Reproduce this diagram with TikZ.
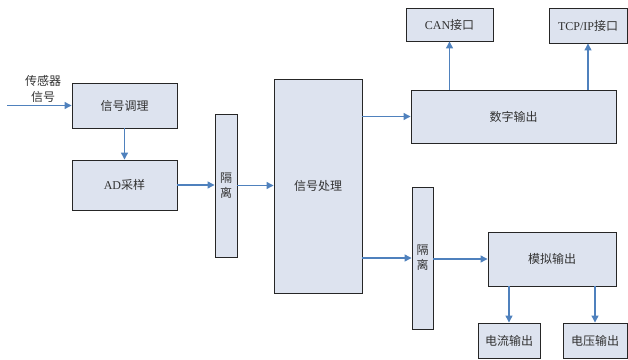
\documentclass[tikz,border=0pt]{standalone}
\usepackage{fontspec}
\setmainfont{Liberation Serif}
\newfontfamily\cjk{Noto Sans CJK SC}
\usetikzlibrary{arrows.meta}
\definecolor{boxfill}{RGB}{221,227,239}
\definecolor{arrblue}{RGB}{79,129,189}
\definecolor{txt}{RGB}{50,50,50}
\begin{document}
\begin{tikzpicture}[x=1pt,y=-1pt,
  box/.style={draw=black!85,line width=0.9pt,fill=boxfill,inner sep=1pt,text=txt,font=\fontsize{12}{15}\selectfont\cjk,align=center},
  arr/.style={draw=arrblue,line width=1.2pt,-{Triangle[length=7pt,width=7pt]}}]
\useasboundingbox (0,0) rectangle (628,359);
\node[box,minimum width=105,minimum height=45] (tiao) at (124.5,105.5) {信号调理};
\node[box,minimum width=105,minimum height=50] (ad) at (124.5,185) {{\rmfamily AD}采样};
\node[box,minimum width=22,minimum height=143] (ge1) at (226,185.5) {隔\\离};
\node[box,minimum width=88,minimum height=214] (chuli) at (318,186) {信号处理};
\node[box,minimum width=205,minimum height=53] (shuzi) at (513.5,116.5) {数字输出};
\node[box,minimum width=87,minimum height=33] (can) at (449.5,24.5) {{\rmfamily CAN}接口};
\node[box,minimum width=78,minimum height=35] (tcp) at (588,25.5) {{\rmfamily TCP/IP}接口};
\node[box,minimum width=21,minimum height=142] (ge2) at (422.5,258) {隔\\离};
\node[box,minimum width=128,minimum height=54] (moni) at (552,259) {模拟输出};
\node[box,minimum width=62,minimum height=35] (dianliu) at (509,340.5) {电流输出};
\node[box,minimum width=64,minimum height=35] (dianya) at (595,340.5) {电压输出};
\node[text=txt,font=\fontsize{12}{16}\selectfont\cjk,align=center] (lbl) at (43,89) {传感器\\信号};
\coordinate (in) at (7,105.5);
\draw[arr] (in) -- (tiao.west);
\draw[arr] (tiao) -- (ad);
\draw[arr] (ad.east) -- (ad.east -| ge1.west);
\draw[arr] (ge1.east) -- (ge1.east -| chuli.west);
\draw[arr] (chuli.east |- shuzi.west) -- (shuzi.west);
\draw[arr] (chuli.east |- ge2.west) -- (ge2.west);
\draw[arr] (ge2.east |- moni.west) -- (moni.west);
\draw[arr] (can.south |- shuzi.north) -- (can.south);
\draw[arr] (tcp.south |- shuzi.north) -- (tcp.south);
\draw[arr] (moni.south -| dianliu) -- (dianliu.north);
\draw[arr] (moni.south -| dianya) -- (dianya.north);
\end{tikzpicture}
\end{document}
